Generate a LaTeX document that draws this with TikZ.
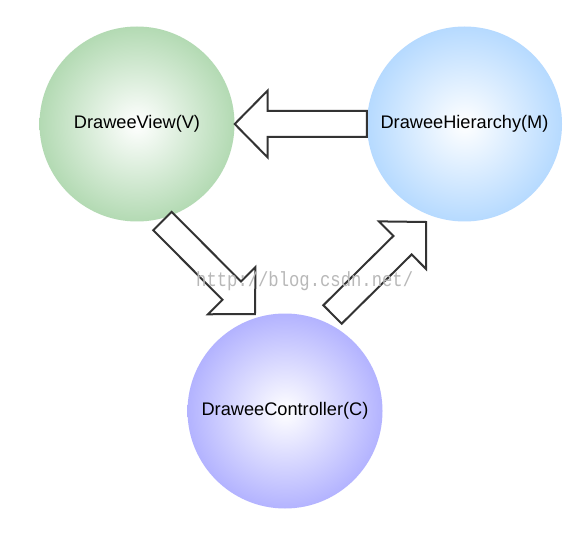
\documentclass[tikz,border=0pt]{standalone}
\usepackage{fontspec}
\setmainfont{Liberation Sans}
\newfontfamily\wmfont{Liberation Mono}
\usetikzlibrary{calc}
\definecolor{vgreen}{HTML}{B3DAB3}
\definecolor{mblue}{HTML}{B6DAFF}
\definecolor{cpurple}{HTML}{B3B3FF}
\definecolor{arrline}{HTML}{333333}
\definecolor{wmgray}{HTML}{B8B8B8}
\tikzset{
  ball/.style={circle, minimum size=195pt, inner sep=0pt, draw=none,
    font=\fontsize{18.2}{20}\selectfont, text=black},
  blockarrowstyle/.style={draw=arrline, line width=2pt, fill=white, line join=miter},
}
% block arrow from #1 (tail) to #2 (tip)
\newcommand\blockarr[2]{%
  \coordinate (hb) at ($(#2)!33pt!(#1)$);
  \draw[blockarrowstyle]
    ($(#1)!13pt!90:(#2)$) -- ($(hb)!13pt!90:(#2)$) -- ($(hb)!33.5pt!90:(#2)$)
    -- (#2) -- ($(hb)!33.5pt!-90:(#2)$) -- ($(hb)!13pt!-90:(#2)$)
    -- ($(#1)!13pt!-90:(#2)$) -- cycle;
}
\begin{document}
\begin{tikzpicture}[x=1pt,y=1pt]
\useasboundingbox (0,0) rectangle (588,536);
\fill[white] (0,0) rectangle (588,536);
\node[ball, inner color=white, outer color=vgreen] (V) at (137,412) {DraweeView(V)};
\node[ball, inner color=white, outer color=mblue] (M) at (464.5,412) {DraweeHierarchy(M)};
\node[ball, inner color=white, outer color=cpurple] (C) at (285,125) {DraweeController(C)};
% arrow end points
\coordinate (a2s) at ($(V.center)+(-75.3:100.3)$);
\coordinate (a2t) at ($(C.center)+(107.2:101.5)$);
\coordinate (a3s) at ($(C.center)+(63.8:107.6)$);
\coordinate (a3t) at ($(M.center)+(-111.45:105.3)$);
\blockarr{M.west}{V.east}
\blockarr{a2s}{a2t}
\blockarr{a3s}{a3t}
\node[anchor=base west, inner sep=0pt, xscale=0.84, transform shape, text=wmgray,
  font=\wmfont\fontsize{20.5}{22}\selectfont] (wm) at (196,250) {http://blog.csdn.net/};
\end{tikzpicture}
\end{document}
